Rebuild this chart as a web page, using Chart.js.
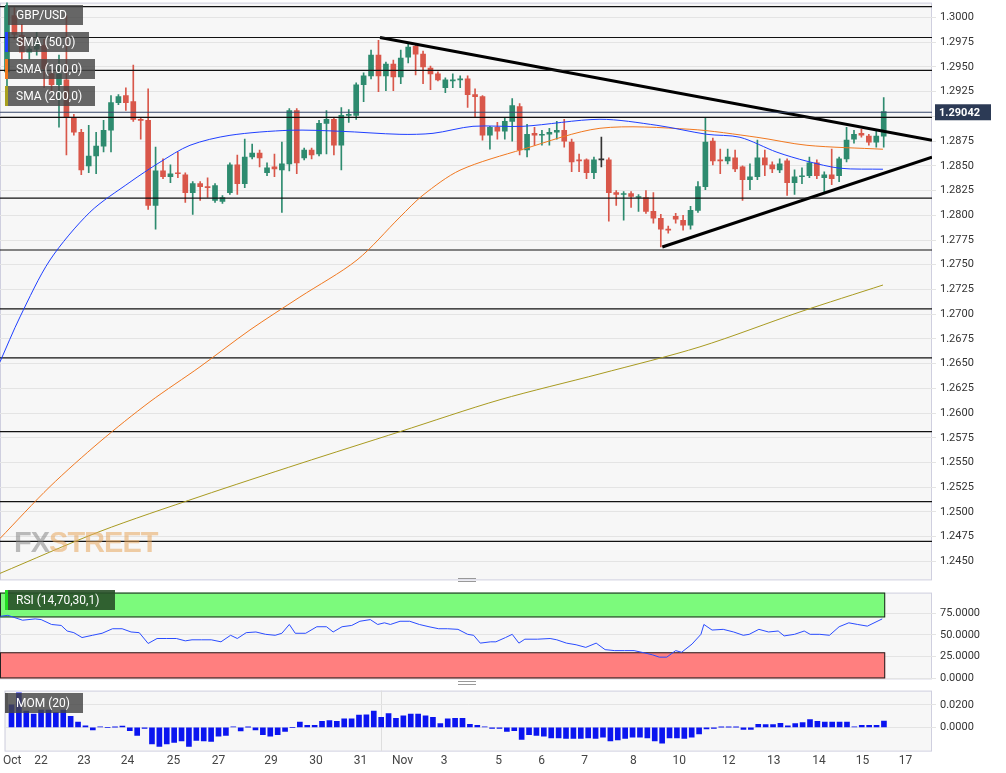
<!DOCTYPE html>
<html>
<head>
<meta charset="utf-8">
<script src="https://cdn.jsdelivr.net/npm/chart.js@4.4.1/dist/chart.umd.min.js"></script>
<style>
  body { margin: 0; background: #fff; font-family: Roboto, "Open Sans", sans-serif; }
  #wrap { position: relative; width: 1006px; height: 773px; overflow: hidden; }
  .pane { position: absolute; left: 0; width: 1006px; }
  .tag { position: absolute; left: 5px; height: 20px; line-height: 20px; color: #fff; font-size: 12px;
         background: rgba(70,70,70,0.82); padding: 0 8px 0 11px; box-sizing: border-box; }
  .tag i { position: absolute; left: 0; top: 0; width: 3px; height: 20px; }
  .grip { position: absolute; left: 458px; width: 18px; border-top: 1px solid #999; border-bottom: 1px solid #999; height: 2px; }
  #wm { position: absolute; left: 14px; top: 526px; font: bold 29px "Liberation Sans", sans-serif; letter-spacing: -1px; opacity: 0.55; }
</style>
</head>
<body>
<div id="wrap">
  <div class="pane" style="top:-8px;height:598px"><canvas id="main"></canvas></div>
  <div class="pane" style="top:582px;height:107px"><canvas id="rsi"></canvas></div>
  <div class="pane" style="top:680px;height:91px"><canvas id="mom"></canvas></div>
  <div id="wm"><span style="color:#888">FX</span><span style="color:#e8a860">STREET</span></div>
  <div class="tag" style="top:5px;width:78px"><i style="background:#2f8a6e"></i>GBP/USD</div>
  <div class="tag" style="top:32px;width:84px"><i style="background:#1f3fff"></i>SMA (50,0)</div>
  <div class="tag" style="top:59px;width:90px"><i style="background:#f07820"></i>SMA (100,0)</div>
  <div class="tag" style="top:86px;width:90px"><i style="background:#a8a020"></i>SMA (200,0)</div>
  <div class="tag" style="top:590px;width:110px;background:rgba(40,80,40,0.9)"><i style="background:#22dd22"></i>RSI (14,70,30,1)</div>
  <div class="tag" style="top:693px;width:78px"><i style="background:#555"></i>MOM (20)</div>
  <div class="grip" style="top:578px"></div>
  <div class="grip" style="top:681px"></div>
</div>
<script>
// 4H candles, index 0 = first visible candle
const opens  = [1.2945,1.3002,1.2982,1.2965,1.2968,1.2972,1.2943,1.2932,1.2937,1.2899,1.2884,1.2850,1.2860,1.2870,1.2886,1.2914,1.2921,1.2915,1.2897,1.2896,
  1.2810,1.2845,1.2839,1.2843,1.2841,1.2823,1.2832,1.2829,1.2815,1.2814,1.2823,1.2851,1.2832,1.2859,1.2863,1.2843,1.2849,1.2846,1.2852,1.2906,
  1.2858,1.2866,1.2862,1.2893,1.2897,1.2871,1.2901,1.2901,1.2932,1.2941,1.2962,1.2941,1.2953,1.2940,1.2960,1.2971,1.2963,1.2949,1.2943,1.2929,
  1.2936,1.2937,1.2938,1.2922,1.2920,1.2881,1.2889,1.2885,1.2895,1.2910,1.2866,1.2883,1.2881,1.2882,1.2884,1.2886,1.2874,1.2856,1.2856,1.2843,
  1.2856,1.2856,1.2823,1.2821,1.2822,1.2818,1.2818,1.2804,1.2797,1.2786,1.2799,1.2795,1.2790,1.2805,1.2829,1.2875,1.2856,1.2855,1.2858,1.2849,
  1.2836,1.2839,1.2858,1.2851,1.2846,1.2855,1.2833,1.2839,1.2840,1.2853,1.2838,1.2841,1.2840,1.2857,1.2877,1.2883,1.2880,1.2874,1.2880];
const highs  = [1.3020,1.3010,1.2993,1.2975,1.2985,1.2978,1.2946,1.2962,1.3002,1.2902,1.2887,1.2891,1.2884,1.2896,1.2921,1.2922,1.2929,1.2952,1.2898,1.2928,
  1.2869,1.2857,1.2851,1.2864,1.2843,1.2834,1.2834,1.2838,1.2832,1.2820,1.2853,1.2861,1.2877,1.2872,1.2866,1.2853,1.2862,1.2874,1.2908,1.2908,
  1.2868,1.2868,1.2896,1.2906,1.2899,1.2909,1.2907,1.2934,1.2944,1.2967,1.2977,1.2955,1.2957,1.2967,1.2975,1.2973,1.2966,1.2951,1.2945,1.2939,
  1.2943,1.2941,1.2941,1.2928,1.2921,1.2890,1.2894,1.2899,1.2918,1.2913,1.2892,1.2889,1.2886,1.2888,1.2895,1.2897,1.2877,1.2862,1.2857,1.2859,
  1.2879,1.2858,1.2825,1.2824,1.2824,1.2821,1.2825,1.2823,1.2801,1.2789,1.2802,1.2800,1.2809,1.2834,1.2899,1.2878,1.2867,1.2867,1.2866,1.2850,
  1.2852,1.2876,1.2866,1.2854,1.2857,1.2857,1.2846,1.2848,1.2859,1.2856,1.2844,1.2867,1.2859,1.2889,1.2886,1.2887,1.2882,1.2885,1.2919];
const lows   = [1.2930,1.2978,1.2958,1.2958,1.2962,1.2929,1.2925,1.2889,1.2861,1.2881,1.2841,1.2843,1.2842,1.2864,1.2864,1.2912,1.2906,1.2895,1.2877,1.2806,
  1.2786,1.2837,1.2833,1.2838,1.2813,1.2801,1.2815,1.2818,1.2813,1.2812,1.2821,1.2821,1.2828,1.2857,1.2849,1.2840,1.2839,1.2803,1.2845,1.2842,
  1.2856,1.2857,1.2860,1.2862,1.2861,1.2846,1.2894,1.2897,1.2915,1.2938,1.2925,1.2926,1.2926,1.2933,1.2954,1.2942,1.2933,1.2927,1.2936,1.2924,
  1.2929,1.2929,1.2909,1.2899,1.2876,1.2867,1.2877,1.2877,1.2875,1.2861,1.2859,1.2871,1.2871,1.2871,1.2877,1.2869,1.2844,1.2844,1.2837,1.2837,
  1.2849,1.2794,1.2810,1.2795,1.2808,1.2804,1.2802,1.2792,1.2768,1.2782,1.2792,1.2785,1.2786,1.2803,1.2826,1.2851,1.2842,1.2852,1.2844,1.2815,
  1.2826,1.2836,1.2840,1.2843,1.2843,1.2820,1.2821,1.2832,1.2838,1.2837,1.2824,1.2831,1.2834,1.2854,1.2873,1.2879,1.2871,1.2869,1.2869];
const closes = [1.3010,1.2983,1.2965,1.2968,1.2975,1.2948,1.2932,1.2943,1.2899,1.2884,1.2846,1.2860,1.2870,1.2886,1.2914,1.2920,1.2914,1.2897,1.2896,1.2810,
  1.2845,1.2839,1.2842,1.2842,1.2823,1.2832,1.2829,1.2828,1.2830,1.2818,1.2851,1.2832,1.2859,1.2863,1.2858,1.2848,1.2847,1.2852,1.2906,1.2853,
  1.2866,1.2861,1.2893,1.2897,1.2871,1.2901,1.2902,1.2932,1.2941,1.2962,1.2941,1.2953,1.2940,1.2959,1.2970,1.2963,1.2950,1.2943,1.2937,1.2937,
  1.2937,1.2938,1.2922,1.2920,1.2881,1.2889,1.2885,1.2895,1.2911,1.2866,1.2882,1.2881,1.2882,1.2884,1.2886,1.2875,1.2854,1.2855,1.2843,1.2856,
  1.2856,1.2823,1.2821,1.2822,1.2819,1.2819,1.2804,1.2797,1.2786,1.2785,1.2796,1.2790,1.2805,1.2829,1.2874,1.2855,1.2855,1.2859,1.2847,1.2836,
  1.2839,1.2858,1.2851,1.2847,1.2852,1.2833,1.2839,1.2840,1.2853,1.2840,1.2841,1.2837,1.2857,1.2876,1.2882,1.2881,1.2874,1.2880,1.2905];
const lastPrice = 1.29042;

// moving averages: [candle index, price]
const sma50  = [[-0.94,1.26518],[1.75,1.26972],[5.79,1.27548],[11.17,1.28032],[16.55,1.28335],[20.59,1.28537],[24.63,1.28708],[30.01,1.28809],
  [38.09,1.28860],[44.82,1.28850],[52.89,1.28819],[57.34,1.28829],[62.72,1.28900],[69.45,1.28900],[79.81,1.28971],[87.48,1.28910],
  [94.21,1.28819],[98.65,1.28789],[103.63,1.28638],[107.67,1.28547],[112.11,1.28476],[117.9,1.28466]];
const sma100 = [[-0.94,1.24732],[5.79,1.25257],[12.52,1.25711],[19.25,1.26115],[25.98,1.26468],[32.71,1.26841],[39.43,1.27174],[47.11,1.27548],
  [52.89,1.27982],[55.99,1.28204],[60.97,1.28456],[69.45,1.28668],[79.81,1.28880],[91.92,1.28870],[100.94,1.28789],[107.67,1.28708],[117.9,1.28668]];
const sma200 = [[-0.94,1.24379],[12.52,1.24803],[25.98,1.25156],[39.43,1.25489],[52.89,1.25812],[66.35,1.26135],[79.81,1.26397],
  [93.27,1.26670],[106.73,1.27023],[117.9,1.27295]];

const levels = [1.30111,1.29798,1.29465,1.28991,1.28173,1.27649,1.27053,1.26559,1.25812,1.25105,1.24702];
const trendDown = [[50.2,1.29798],[124.5,1.28759]];
const trendUp   = [[88.2,1.27679],[124.5,1.28587]];

const rsiPts = [[-0.9,71.3],[0.1,72.4],[2.1,66.8],[3.8,68.3],[4.6,67.5],[6.0,61.9],[7.3,60.8],[8.1,54.4],[9.0,52.5],[10.1,46.9],
  [11.5,49.5],[12.8,51.8],[14.2,57.0],[15.5,57.0],[16.7,53.3],[17.8,52.5],[19.0,40.1],[20.2,45.8],[21.5,45.8],[22.8,45.8],
  [24.0,43.1],[24.9,44.3],[26.2,44.3],[27.5,44.3],[28.8,42.0],[30.1,49.5],[31.0,45.8],[32.2,52.5],[33.5,53.3],[34.8,50.6],
  [36.1,49.5],[37.0,51.8],[38.0,61.9],[38.8,51.8],[40.2,51.8],[41.7,59.3],[43.0,59.3],[43.9,53.3],[45.1,59.3],[46.4,60.8],
  [47.5,65.6],[48.9,67.5],[49.9,61.9],[50.8,63.8],[51.6,61.9],[52.9,65.6],[54.2,65.6],[55.5,61.9],[56.8,59.3],[58.1,57.0],
  [59.3,57.0],[60.7,56.3],[62.0,50.6],[62.8,49.5],[63.7,40.5],[65.1,42.0],[65.8,42.0],[67.1,46.9],[68.0,50.6],[68.9,40.5],
  [69.7,45.0],[71.4,45.0],[73.1,45.8],[74.0,44.3],[75.3,40.5],[76.6,38.6],[77.9,35.6],[79.3,40.5],[80.5,33.0],[81.8,31.9],
  [83.1,31.9],[84.4,31.9],[85.8,29.3],[86.9,27.0],[87.8,24.4],[88.8,24.4],[90.0,31.9],[90.8,30.0],[92.2,39.4],[93.4,50.6],
  [93.8,61.9],[94.9,55.5],[96.4,56.3],[97.8,53.3],[99.1,49.5],[99.9,50.6],[101.2,56.3],[102.5,53.3],[103.8,54.4],[104.6,48.8],
  [106.0,50.6],[107.3,54.4],[108.1,50.6],[109.4,50.6],[110.7,49.5],[112.0,59.3],[113.3,63.8],[114.5,61.9],[115.8,60.0],[117.8,68.3]];

const mom = [0.0200,0.0306,0.0145,0.0117,0.0153,0.0153,0.0131,0.0153,0.0097,0.0047,0.0014,-0.0022,0.0006,0.0000,0.0002,0.0011,-0.0028,-0.0070,-0.0008,
  -0.0147,-0.0167,-0.0147,-0.0133,-0.0120,-0.0167,-0.0114,-0.0120,-0.0125,-0.0078,-0.0072,0.0006,-0.0031,0.0003,-0.0022,-0.0064,-0.0078,-0.0064,-0.0036,0.0000,
  0.0047,0.0019,0.0019,0.0053,0.0061,0.0053,0.0075,0.0075,0.0108,0.0111,0.0145,0.0089,0.0122,0.0081,0.0103,0.0117,0.0117,0.0103,0.0089,0.0033,
  0.0075,0.0081,0.0081,0.0028,0.0019,0.0006,-0.0008,-0.0008,-0.0036,-0.0028,-0.0106,-0.0064,-0.0070,-0.0078,-0.0092,-0.0092,-0.0097,-0.0097,-0.0097,-0.0092,
  -0.0097,-0.0086,-0.0120,-0.0111,-0.0097,-0.0086,-0.0086,-0.0092,-0.0120,-0.0139,-0.0092,-0.0092,-0.0097,-0.0086,-0.0058,-0.0014,-0.0008,0.0002,0.0003,0.0003,
  -0.0017,-0.0017,0.0028,0.0025,0.0025,0.0036,0.0014,0.0033,0.0042,0.0070,0.0053,0.0047,0.0047,0.0047,0.0047,0.0006,0.0019,0.0019,0.0019,0.0056];

const tickIdx  = [0.1,4.0,9.8,15.7,21.9,28.0,35.1,41.2,47.2,52.9,58.5,65.9,71.7,77.5,84.1,90.3,97.0,103.1,109.2,115.1,120.9];
const tickText = ['Oct','22','23','24','25','27','29','30','31','Nov','3','5','6','7','8','10','12','13','14','15','17'];
const priceTicks = [1.245,1.2475,1.25,1.2525,1.255,1.2575,1.26,1.2625,1.265,1.2675,1.27,1.2725,1.275,1.2775,1.28,1.2825,1.285,1.2875,1.29,1.2925,1.295,1.2975,1.30];

const XMIN = -0.94, XMAX = 124.5;
const GREEN = '#2e8b6f', RED = '#d9574a';
const axisW = s => { s.width = 74; };
const tickFont = { family: 'Roboto, sans-serif', size: 11 };

const pts = a => a.map(([x, y]) => ({ x, y }));
const candleColor = closes.map((c, i) => c > opens[i] ? GREEN : c < opens[i] ? RED : '#333');
const line = (data, color, width) => ({ type: 'line', data, borderColor: color, borderWidth: width, pointRadius: 0, tension: 0.3, order: 1 });

const datasets = [
  { type: 'bar', data: closes.map((c, i) => ({ x: i, y: [lows[i], highs[i]] })), backgroundColor: candleColor, barThickness: 1, grouped: false, order: 4 },
  { type: 'bar', data: closes.map((c, i) => ({ x: i, y: [opens[i], c] })), backgroundColor: candleColor, barThickness: 5, minBarLength: 1, grouped: false, order: 3 },
  line(pts(sma50), '#1f3fff', 1),
  line(pts(sma100), '#f07820', 1),
  line(pts(sma200), '#a89a20', 1),
  ...levels.map(l => ({ ...line([{ x: XMIN, y: l }, { x: XMAX, y: l }], '#111', 1.2), tension: 0 })),
  { ...line([{ x: XMIN, y: lastPrice }, { x: XMAX, y: lastPrice }], '#34466a', 1.2), tension: 0 },
  { ...line(pts(trendDown), '#000', 3), tension: 0 },
  { ...line(pts(trendUp), '#000', 3), tension: 0 },
];

const priceTag = {
  id: 'priceTag',
  afterDraw(chart) {
    const { ctx, scales: { y } } = chart;
    const py = y.getPixelForValue(lastPrice);
    ctx.save();
    ctx.fillStyle = '#2c3a55';
    ctx.fillRect(y.left + 3, py - 8, 56, 16);
    ctx.fillStyle = '#fff';
    ctx.font = 'bold 11px Roboto, sans-serif';
    ctx.textBaseline = 'middle';
    ctx.fillText(lastPrice.toFixed(5), y.left + 7, py + 1);
    ctx.restore();
  }
};

const bgPlugin = {
  id: 'bg',
  beforeDraw(chart) {
    const { ctx, chartArea: a } = chart;
    ctx.save();
    ctx.fillStyle = '#f7f7f7';
    ctx.fillRect(a.left, a.top, a.right - a.left, a.bottom - a.top);
    ctx.strokeStyle = '#cfcfdf';
    ctx.strokeRect(a.left + 0.5, a.top + 0.5, a.right - a.left - 1, a.bottom - a.top);
    ctx.restore();
  }
};

const xHidden = { type: 'linear', min: XMIN, max: XMAX, offset: false, display: false };
const yRight = (extra) => Object.assign({
  position: 'right', afterFit: axisW,
  grid: { color: '#e4e4e4', drawTicks: true, tickLength: 4 },
  border: { display: false },
  ticks: { color: '#333', font: tickFont, padding: 4 }
}, extra);
const baseOpts = {
  responsive: true, maintainAspectRatio: false, animation: false,
  layout: { padding: 0, autoPadding: false },
  plugins: { legend: { display: false }, tooltip: { enabled: false } }
};

new Chart(document.getElementById('main'), {
  data: { datasets },
  plugins: [bgPlugin, priceTag],
  options: {
    ...baseOpts,
    scales: {
      x: xHidden,
      y: yRight({
        min: 1.24318, max: 1.30151,
        afterBuildTicks: s => { s.ticks = priceTicks.map(v => ({ value: v })); },
        ticks: { color: '#333', font: tickFont, padding: 4, callback: v => v.toFixed(4) }
      })
    }
  }
});

const rsiBands = {
  id: 'rsiBands',
  beforeDatasetsDraw(chart) {
    const { ctx, scales: { x, y } } = chart;
    const x0 = x.getPixelForValue(XMIN), x1 = x.getPixelForValue(118.2);
    const band = (lo, hi, fill) => {
      const t = y.getPixelForValue(hi), b = y.getPixelForValue(lo);
      ctx.fillStyle = fill;
      ctx.fillRect(x0, t, x1 - x0, b - t);
      ctx.strokeStyle = '#222';
      ctx.lineWidth = 1;
      ctx.strokeRect(x0 + 0.5, t + 0.5, x1 - x0 - 1, b - t - 1);
    };
    ctx.save();
    band(70, 98.5, 'rgba(110,250,110,0.9)');
    band(0, 30, 'rgba(255,120,120,0.95)');
    ctx.restore();
  }
};

new Chart(document.getElementById('rsi'), {
  type: 'line',
  data: { datasets: [{ data: pts(rsiPts), borderColor: '#2a4cff', borderWidth: 1, pointRadius: 0, tension: 0 }] },
  plugins: [bgPlugin, rsiBands],
  options: {
    ...baseOpts,
    scales: {
      x: xHidden,
      y: yRight({
        min: 0, max: 98.5,
        afterBuildTicks: s => { s.ticks = [0, 25, 50, 75].map(v => ({ value: v })); },
        ticks: { color: '#333', font: tickFont, padding: 4, callback: v => v.toFixed(4) }
      })
    }
  }
});

new Chart(document.getElementById('mom'), {
  type: 'bar',
  data: { datasets: [{ data: mom.map((v, i) => ({ x: i, y: v })), backgroundColor: '#0a14f0', barThickness: 5 }] },
  plugins: [bgPlugin],
  options: {
    ...baseOpts,
    scales: {
      x: {
        type: 'linear', min: XMIN, max: XMAX, offset: false,
        afterBuildTicks: s => { s.ticks = tickIdx.map(v => ({ value: v })); },
        ticks: { color: '#444', font: { family: 'Roboto, sans-serif', size: 12 }, maxRotation: 0, autoSkip: false,
                 callback: (v, i) => tickText[i] },
        grid: { color: ctx => (ctx.index === 9 ? '#dedede' : 'transparent'), drawTicks: false },
        border: { display: false }
      },
      y: yRight({
        min: -0.0205, max: 0.0325,
        afterBuildTicks: s => { s.ticks = [0, 0.02].map(v => ({ value: v })); },
        ticks: { color: '#333', font: tickFont, padding: 4, callback: v => v.toFixed(4) }
      })
    }
  }
});
</script>
</body>
</html>
